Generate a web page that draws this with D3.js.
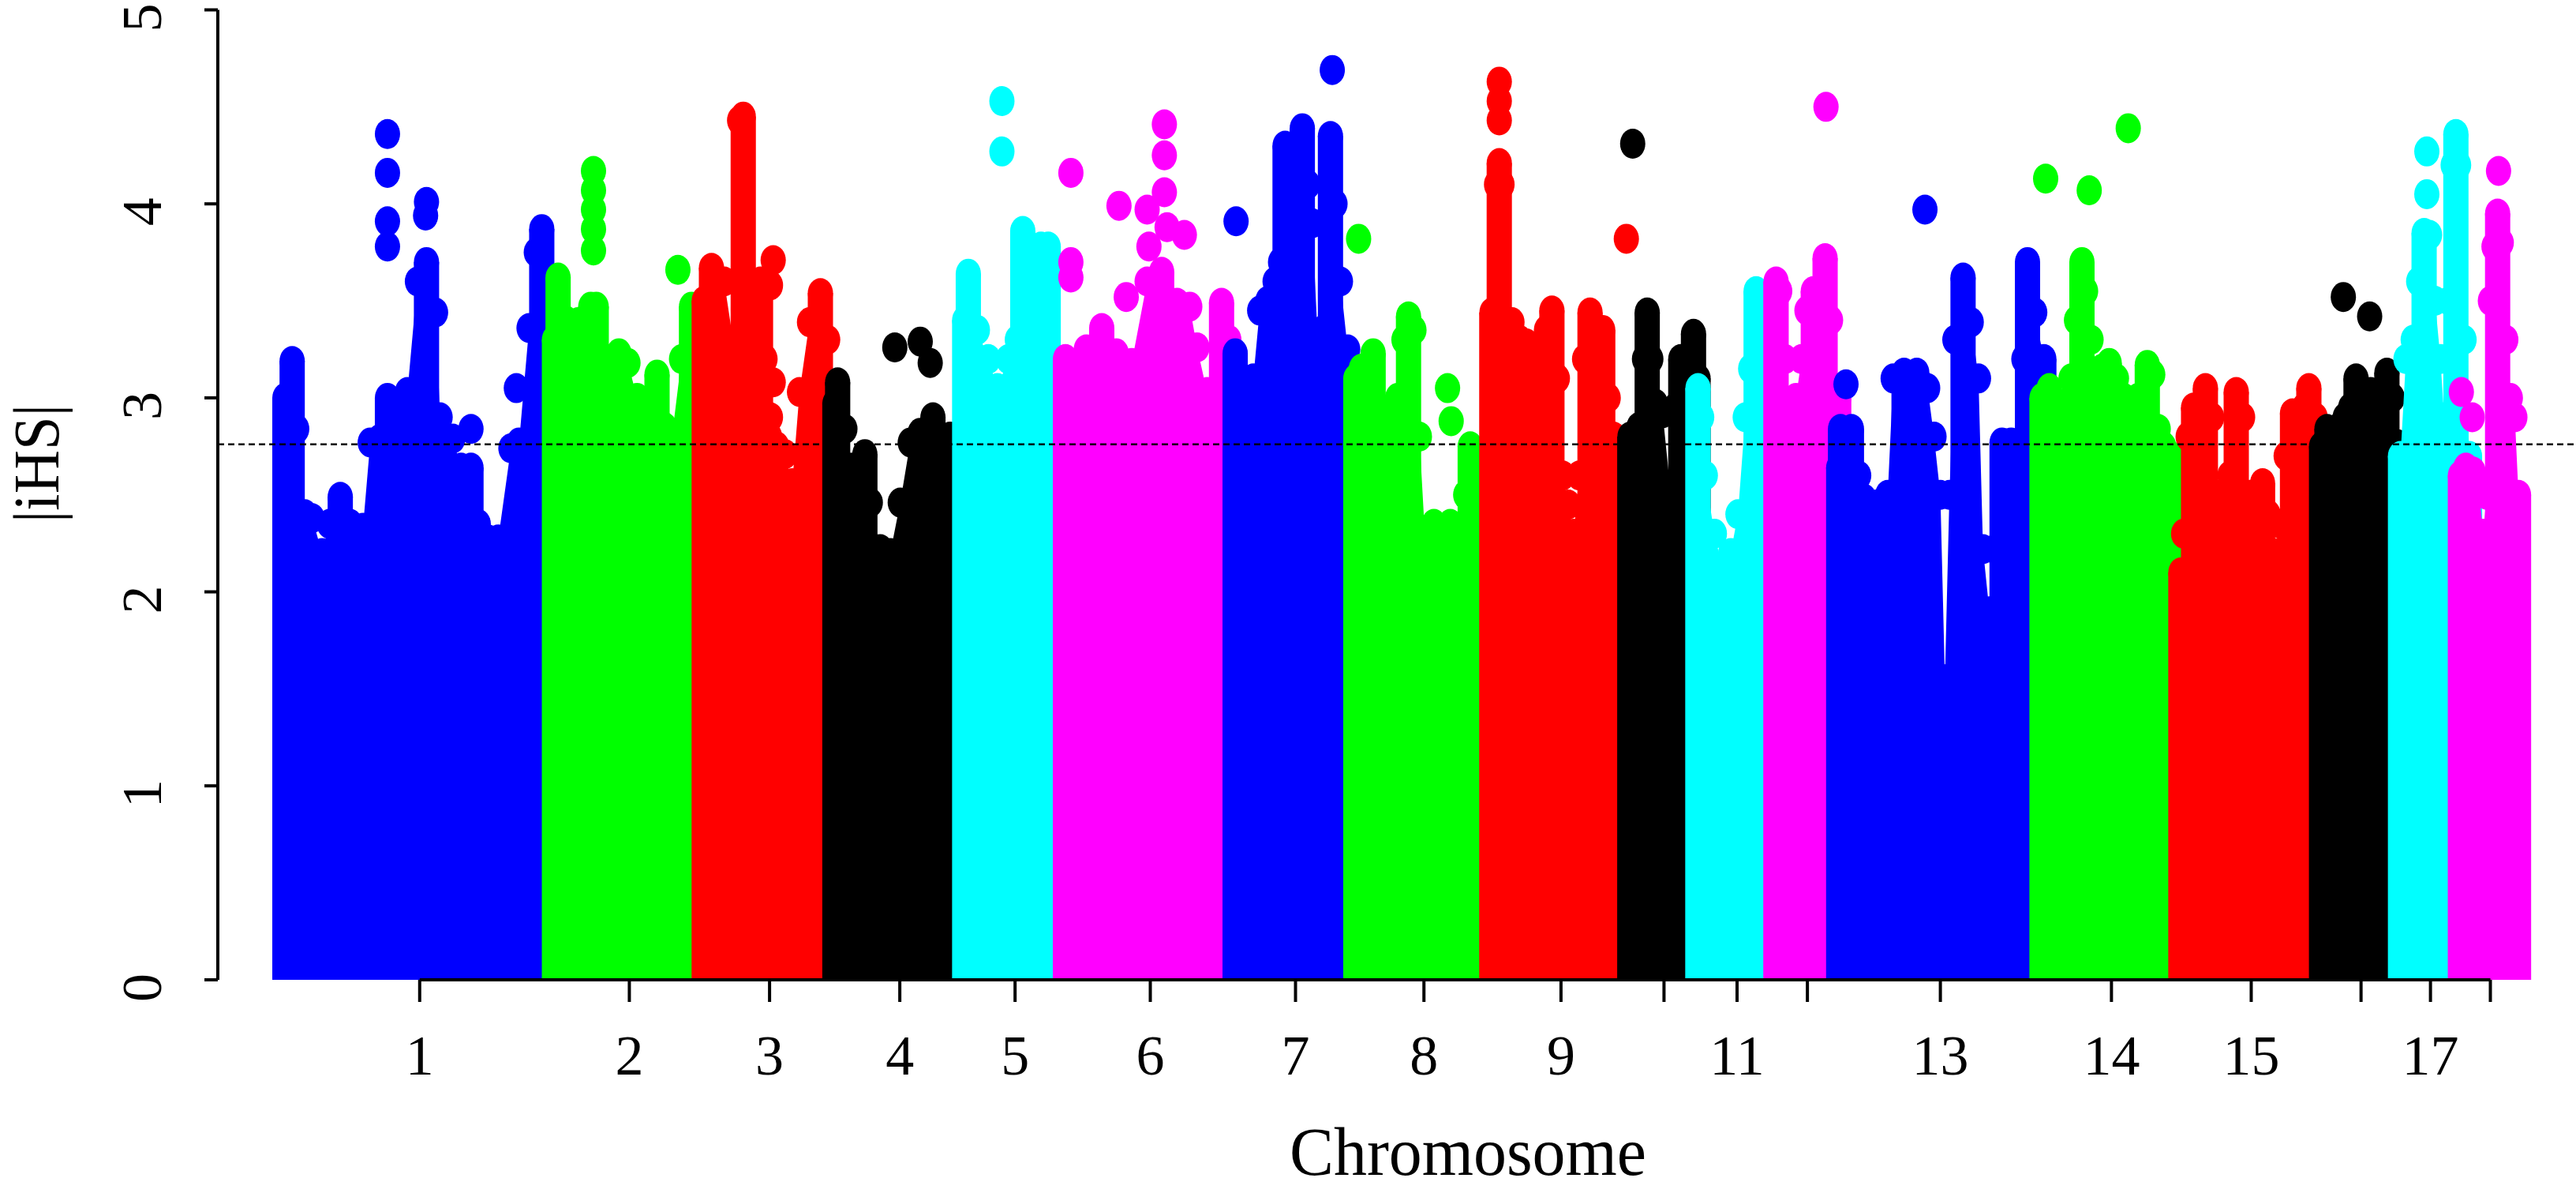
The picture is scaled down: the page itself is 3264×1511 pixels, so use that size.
<!DOCTYPE html>
<html lang="en">
<head>
<meta charset="UTF-8">
<title>|iHS| by chromosome</title>
<script src="https://cdn.jsdelivr.net/npm/d3@7"></script>
<style>
  body { margin: 0; background: #fff; }
  svg { display: block; }
  text { font-family: "Liberation Serif", "Times New Roman", serif; fill: #000; }
</style>
</head>
<body>
<svg id="chart" width="3264" height="1511"></svg>
<script>
// chromosomes and their lengths (Mb)
const chromosomes = ["1","2","3","4","5","6","7","8","9","10","11","12","13","14","15","16","17","18"];
const chrLengths = [297,165,144,143,111,187,133,150,152,75,86,69,224,153,155,87,66,66];
// R drops labels that would overlap
const shownLabels = ["1","2","3","4","5","6","7","8","9","11","13","14","15","17"];
const yTicks = [0,1,2,3,4,5];
const threshold = 2.76;

// top edge of the dense cloud of SNPs, per chromosome: [position (Mb), |iHS|]
const ridge1 = [[0,3.0],[8,3.19],[13,2.84],[22,2.40],[30,2.38],[41,2.20],[49,2.35],[61,2.49],[72,2.35],[86,2.33],[94,2.77],[105,2.79],[113,3.0],[124,2.97],[135,3.03],[146,3.6],[156,3.70],[166,3.44],[171,2.90],[185,2.79],[194,2.64],[205,2.64],[213,2.35],[224,2.27],[235,2.27],[249,2.74],[258,2.77],[269,3.36],[277,3.75],[283,3.87],[290,3.5],[297,3.1]];
const ridge2 = [[0,3.3],[4,3.62],[12,3.4],[20,3.34],[26,3.39],[32,3.23],[40,3.47],[46,3.47],[52,3.1],[60,3.2],[71,3.23],[81,3.18],[91,3.0],[101,2.97],[113,3.12],[121,2.85],[130,2.82],[140,3.2],[151,3.47],[158,3.1],[165,2.8]];
const ridge3 = [[0,3.5],[8,3.67],[22,3.6],[33,3.26],[37,3.3],[39,4.43],[43,4.45],[47,3.6],[53,3.55],[62,3.6],[67,3.2],[72,2.8],[80,2.75],[89,2.71],[97,2.56],[105,3.03],[116,3.39],[128,3.54],[136,3.3],[144,3.0]];
const ridge4 = [[0,2.97],[3,3.08],[11,2.84],[19,2.64],[33,2.71],[39,2.46],[50,2.22],[61,2.2],[72,2.46],[83,2.77],[94,2.82],[108,2.9],[122,2.77],[127,2.8],[135,2.7],[143,2.6]];
const ridge5 = [[0,3.4],[4,3.64],[14,3.35],[26,3.2],[36,3.05],[48,3.2],[58,3.3],[64,3.86],[70,3.25],[78,3.5],[84,3.78],[92,3.78],[97,3.1],[104,2.9],[111,2.8]];
const ridge6 = [[0,3.2],[6,3.18],[23,3.25],[40,3.36],[56,3.23],[73,3.18],[90,3.6],[106,3.65],[123,3.49],[137,3.47],[145,3.26],[156,3.03],[172,3.49],[180,3.3],[187,3.1]];
const ridge7 = [[0,3.23],[13,3.05],[20,3.1],[27,3.45],[36,3.5],[44,3.6],[50,3.7],[55,4.3],[65,4.3],[74,4.39],[80,4.1],[85,3.9],[91,3.3],[97,3.35],[101,3.9],[105,4.35],[110,4.0],[116,3.6],[124,3.25],[133,3.0]];
const ridge8 = [[0,3.1],[6,3.15],[19,3.23],[26,2.95],[36,2.92],[46,3.0],[53,3.3],[58,3.42],[64,3.35],[70,2.8],[76,2.3],[86,2.35],[96,2.3],[104,2.35],[111,2.3],[121,2.5],[126,2.75],[132,2.6],[140,2.5],[150,2.4]];
const ridge9 = [[0,3.44],[3,3.3],[5,4.1],[8,4.21],[11,4.1],[14,3.4],[22,3.39],[30,3.3],[38,3.28],[46,3.2],[54,3.23],[60,3.35],[66,3.45],[72,3.1],[78,2.6],[84,2.45],[90,2.3],[96,2.6],[102,3.2],[108,3.44],[116,3.3],[122,3.35],[128,3.0],[134,2.8],[142,2.75],[152,2.5]];
const ridge10 = [[0,2.8],[2,2.75],[10,2.85],[16,3.2],[19,3.44],[23,3.2],[28,2.97],[36,2.92],[44,2.55],[50,2.95],[56,3.2],[62,3.0],[66,3.15],[70,3.33],[75,3.1]];
const ridge11 = [[0,3.05],[4,2.9],[8,2.6],[18,2.3],[28,2.1],[36,2.2],[44,2.4],[52,2.9],[58,3.15],[64,3.55],[70,3.5],[76,3.3],[86,3.0]];
const ridge12 = [[0,3.6],[4,3.55],[10,3.2],[16,2.93],[22,3.0],[28,3.2],[34,3.45],[41,3.55],[48,3.55],[54,3.72],[60,3.4],[69,3.0]];
const ridge13 = [[0,2.64],[2,2.84],[14,2.84],[22,2.6],[28,2.48],[41,2.45],[54,2.5],[60,3.1],[72,3.13],[86,3.13],[98,3.05],[105,2.8],[112,2.5],[117,1.55],[122,2.5],[128,3.3],[137,3.62],[146,3.39],[154,3.1],[159,2.22],[166,1.9],[172,2.22],[180,2.77],[190,2.77],[198,2.5],[204,3.2],[208,3.7],[216,3.44],[226,3.2]];
const ridge14 = [[0,3.0],[8,3.05],[16,2.95],[24,2.97],[32,3.1],[38,3.4],[44,3.7],[48,3.55],[54,3.3],[60,3.05],[66,3.15],[74,3.18],[82,3.1],[90,3.0],[98,2.95],[106,3.0],[116,3.17],[122,3.12],[128,2.84],[134,2.75],[142,2.7],[153,2.6]];
const ridge15 = [[0,2.1],[3,2.3],[8,2.8],[14,2.95],[22,2.9],[27,3.05],[34,2.9],[42,2.5],[48,2.4],[54,2.6],[61,3.03],[68,2.9],[76,2.5],[84,2.5],[90,2.56],[96,2.4],[102,2.2],[110,2.35],[116,2.7],[123,2.92],[130,2.7],[136,2.95],[141,3.05],[148,2.9],[155,2.7]];
const ridge16 = [[0,2.75],[6,2.84],[14,2.8],[20,2.85],[26,2.9],[32,2.95],[38,3.1],[44,2.9],[50,2.95],[54,3.03],[60,2.95],[66,2.8],[72,3.13],[78,3.0],[84,2.76],[90,2.5]];
const ridge17 = [[0,2.7],[6,3.2],[14,3.3],[20,3.6],[26,3.85],[32,3.84],[38,3.5],[44,3.2],[48,2.9],[54,3.5],[58,4.2],[61,4.36],[64,4.2],[70,3.3],[76,2.7]];
const ridge18 = [[0,2.6],[6,2.64],[14,2.62],[20,2.55],[25,2.3],[29,2.5],[33,3.5],[37,3.78],[41,3.95],[45,3.8],[50,3.3],[55,3.0],[60,2.9],[64,2.5]];
const ridges = [ridge1,ridge2,ridge3,ridge4,ridge5,ridge6,ridge7,ridge8,ridge9,ridge10,ridge11,ridge12,ridge13,ridge14,ridge15,ridge16,ridge17,ridge18];

// isolated SNPs standing above the cloud: [chromosome, position (Mb), |iHS|]
const outliers = [
  ["1",113,4.36],["1",113,4.16],["1",113,3.91],["1",113,3.78],["1",156,4.01],["1",155,3.94],["1",205,2.84],["1",255,3.05],
  ["2",43,4.17],["2",43,4.07],["2",43,3.97],["2",43,3.87],["2",43,3.76],["2",136,3.66],
  ["3",76,3.71],["3",73,3.58],["3",76,3.08],["3",73,2.9],
  ["4",66,3.26],["4",94,3.29],["4",105,3.18],
  ["5",41,4.53],["5",41,4.27],
  ["6",6,4.16],["6",6,3.70],["6",6,3.62],["6",59,3.99],["6",67,3.52],["6",109,4.41],["6",109,4.25],["6",109,4.06],["6",90,3.97],["6",92,3.78],["6",112,3.88],["6",131,3.84],
  ["7",1,3.91],["7",107,4.69],
  ["8",3,3.82],["8",101,3.05],["8",105,2.88],
  ["9",8,4.63],["9",8,4.53],["9",8,4.43],["9",148,3.82],
  ["10",3,4.31],
  ["12",55,4.5],
  ["13",8,3.07],["13",95,3.97],
  ["14",4,4.13],["14",52,4.07],["14",95,4.39],
  ["16",24,3.52],["16",53,3.42],
  ["17",29,4.27],["17",29,4.05],
  ["18",1,3.03],["18",13,2.9],["18",42,4.17]
];

const palette = ["#0000FF","#00FF00","#FF0000","#000000","#00FFFF","#FF00FF"];

const svg = d3.select("#chart");
const offsets = [0, ...d3.cumsum(chrLengths)];
const total = d3.sum(chrLengths);
const x = d3.scaleLinear().domain([0, total]).range([361, 361 + 1.15 * total]);
const y = d3.scaleLinear().domain([0, 5]).range([1241, 12.5]);
const rx = 16, ry = 19;

const area = d3.area().x(d => d[0]).y0(y(0)).y1(d => d[1]);

chromosomes.forEach((c, i) => {
  const col = palette[i % palette.length];
  const r = ridges[i];
  const g = svg.append("g");
  const pts = r.map(([p, v]) => [x(offsets[i] + p), y(v)]);
  const last = pts[pts.length - 1];
  const outline = [[pts[0][0] - rx, pts[0][1]], ...pts, [last[0] + rx, last[1]]];
  g.append("path").attr("d", area(outline)).attr("fill", col);

  // local maxima stand as columns of stacked points, one point wide
  const peaks = r.filter((d, k) =>
    d[1] >= (k > 0 ? r[k - 1][1] : -Infinity) && d[1] >= (k < r.length - 1 ? r[k + 1][1] : -Infinity));
  g.selectAll("rect")
    .data(peaks)
    .join("rect")
    .attr("x", d => x(offsets[i] + d[0]) - rx)
    .attr("y", d => y(d[1]))
    .attr("width", 2 * rx)
    .attr("height", d => y(0) - y(d[1]))
    .attr("fill", col);

  g.selectAll("ellipse.top")
    .data(r)
    .join("ellipse")
    .attr("cx", d => x(offsets[i] + d[0]))
    .attr("cy", d => y(d[1]))
    .attr("rx", rx).attr("ry", ry)
    .attr("fill", col);

  g.selectAll("ellipse.out")
    .data(outliers.filter(o => o[0] === c))
    .join("ellipse")
    .attr("cx", d => x(offsets[i] + d[1]))
    .attr("cy", d => y(d[2]))
    .attr("rx", rx).attr("ry", ry)
    .attr("fill", col);
});

// threshold line
svg.append("line")
  .attr("x1", 276).attr("x2", 3264)
  .attr("y1", y(threshold)).attr("y2", y(threshold))
  .attr("stroke", "#000").attr("stroke-width", 2.5)
  .attr("stroke-dasharray", "8,5");

// y axis
const yAxis = svg.append("g").attr("transform", "translate(276,0)");
yAxis.append("line").attr("y1", y(0)).attr("y2", y(5)).attr("stroke", "#000").attr("stroke-width", 4);
yAxis.selectAll("line.tick").data(yTicks).join("line")
  .attr("x1", 0).attr("x2", -17)
  .attr("y1", d => y(d)).attr("y2", d => y(d))
  .attr("stroke", "#000").attr("stroke-width", 4);
yAxis.selectAll("text").data(yTicks).join("text")
  .attr("transform", d => `translate(-72,${y(d) + 10}) rotate(-90)`)
  .attr("text-anchor", "middle")
  .attr("font-size", 72)
  .text(d => d);

// x axis
const mids = chrLengths.map((l, i) => x(offsets[i] + l / 2));
svg.append("line")
  .attr("x1", mids[0]).attr("x2", mids[mids.length - 1])
  .attr("y1", y(0)).attr("y2", y(0))
  .attr("stroke", "#000").attr("stroke-width", 4);
svg.selectAll("line.xtick").data(mids).join("line")
  .attr("x1", d => d).attr("x2", d => d)
  .attr("y1", y(0)).attr("y2", y(0) + 28)
  .attr("stroke", "#000").attr("stroke-width", 4);
svg.append("g").selectAll("text")
  .data(chromosomes.map((c, i) => ({ c, x: mids[i] })).filter(d => shownLabels.includes(d.c)))
  .join("text")
  .attr("x", d => d.x).attr("y", 1361)
  .attr("text-anchor", "middle")
  .attr("font-size", 72)
  .text(d => d.c);

// axis titles
svg.append("text")
  .attr("x", 1860).attr("y", 1488)
  .attr("text-anchor", "middle")
  .attr("font-size", 86)
  .attr("textLength", 452).attr("lengthAdjust", "spacingAndGlyphs")
  .text("Chromosome");
svg.append("text")
  .attr("transform", "translate(74,587) rotate(-90)")
  .attr("text-anchor", "middle")
  .attr("font-size", 82)
  .attr("textLength", 150).attr("lengthAdjust", "spacingAndGlyphs")
  .text("|iHS|");
</script>
</body>
</html>
